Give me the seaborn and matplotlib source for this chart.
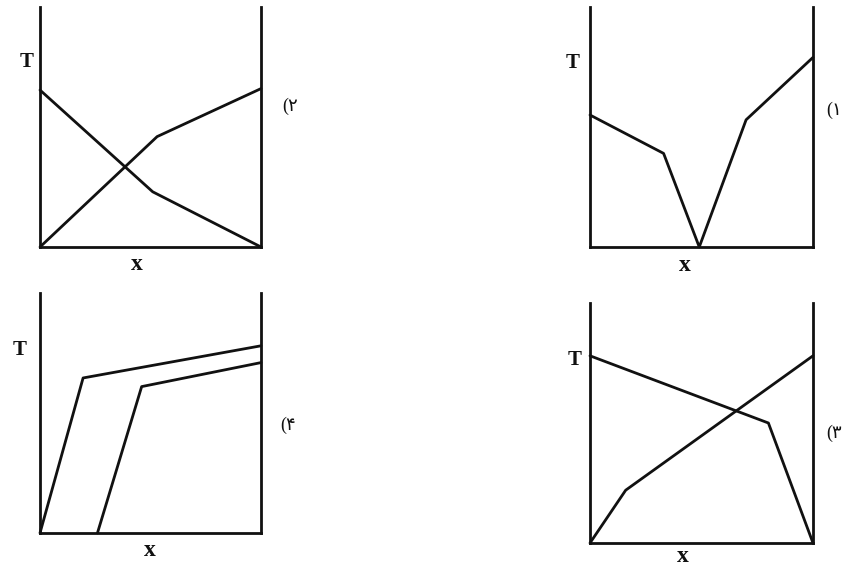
import matplotlib
matplotlib.use("Agg")
import matplotlib.pyplot as plt
import seaborn as sns
import pandas as pd

sns.set_theme(style="white")
plt.rcParams['font.family'] = ['Liberation Serif', 'DejaVu Sans']

# Panel (1): single curve with eutectic-like minimum
p1_x = [0.0, 0.33, 0.49, 0.70, 1.0]
p1_y = [0.55, 0.39, 0.0, 0.53, 0.79]

# Panel (2): two crossing curves
p2_a_x = [0.0, 0.51, 1.0]
p2_a_y = [0.654, 0.23, 0.0]
p2_b_x = [0.0, 0.53, 1.0]
p2_b_y = [0.0, 0.46, 0.66]

# Panel (3): two crossing curves
p3_a_x = [0.0, 0.80, 1.0]
p3_a_y = [0.78, 0.50, 0.0]
p3_b_x = [0.0, 0.16, 1.0]
p3_b_y = [0.0, 0.22, 0.78]

# Panel (4): two parallel bent curves
p4_a_x = [0.0, 0.195, 1.0]
p4_a_y = [0.0, 0.646, 0.78]
p4_b_x = [0.26, 0.46, 1.0]
p4_b_y = [0.0, 0.61, 0.71]

labels = ["(۱", "(۲", "(۳", "(۴"]
y_label = "T"
x_label = "x"

W, H = 846, 568
fig = plt.figure(figsize=(W / 100, H / 100), dpi=100)
fig.patch.set_facecolor("white")


def make_ax(x0, x1, ytop, ybot):
    ax = fig.add_axes([x0 / W, 1 - ybot / H, (x1 - x0) / W, (ybot - ytop) / H])
    ax.set_xlim(0, 1)
    ax.set_ylim(0, 1)
    ax.set_facecolor("none")
    for s in ["left", "right", "bottom"]:
        ax.spines[s].set_visible(True)
        ax.spines[s].set_color("#111111")
        ax.spines[s].set_linewidth(2.0)
    ax.spines["top"].set_visible(False)
    ax.set_xticks([])
    ax.set_yticks([])
    ax.set_xlabel("")
    ax.set_ylabel("")
    return ax


def draw(ax, series):
    rows = []
    for i, (xs, ys) in enumerate(series):
        for j, (xv, yv) in enumerate(zip(xs, ys)):
            rows.append({"x": xv, "y": yv, "line": i, "order": j})
    df = pd.DataFrame(rows)
    sns.lineplot(data=df, x="x", y="y", units="line", estimator=None, sort=False,
                 color="#111111", linewidth=2.0, ax=ax, legend=False)
    ax.set_xlim(0, 1)
    ax.set_ylim(0, 1)
    ax.set_xlabel("")
    ax.set_ylabel("")
    for ln in ax.lines:
        ln.set_clip_on(False)


ax2 = make_ax(40, 261, 7, 247)
draw(ax2, [(p2_a_x, p2_a_y), (p2_b_x, p2_b_y)])
ax1 = make_ax(590, 813, 7, 247)
draw(ax1, [(p1_x, p1_y)])
ax4 = make_ax(40, 261, 293, 533)
draw(ax4, [(p4_a_x, p4_a_y), (p4_b_x, p4_b_y)])
ax3 = make_ax(590, 813, 303, 543)
draw(ax3, [(p3_a_x, p3_a_y), (p3_b_x, p3_b_y)])


def ftext(px, py, s, size, weight="bold", ha="center"):
    fig.text(px / W, 1 - py / H, s, fontsize=size, fontweight=weight,
             ha=ha, va="center", color="#111111")


# T labels
ftext(27, 62, y_label, 15)
ftext(573, 63, y_label, 15)
ftext(20, 350, y_label, 15)
ftext(575, 360, y_label, 15)
# x labels
ftext(137, 264, x_label, 17)
ftext(685, 266, x_label, 17)
ftext(150, 551, x_label, 17)
ftext(683, 556, x_label, 17)
# option numbers
ftext(826, 110, labels[0], 13, weight="normal", ha="left")
ftext(282, 106, labels[1], 13, weight="normal", ha="left")
ftext(826, 433, labels[2], 13, weight="normal", ha="left")
ftext(280, 425, labels[3], 13, weight="normal", ha="left")

fig.savefig("out.png", dpi=100, facecolor="white")
